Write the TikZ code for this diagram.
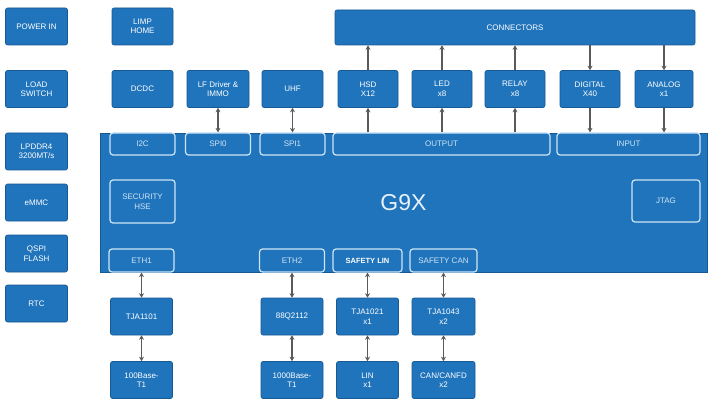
\documentclass[tikz,border=0pt]{standalone}
\usepackage{fontspec}
\setmainfont{Liberation Sans}
\usetikzlibrary{arrows.meta}
\definecolor{chipblue}{HTML}{2074BC}
\definecolor{edgeblue}{HTML}{175A93}
\definecolor{padline}{HTML}{CFE5F6}
\definecolor{wire}{HTML}{5A5A5A}

\begin{document}
\begin{tikzpicture}[x=1pt,y=-1pt,
    blk/.style={draw=edgeblue,fill=chipblue,rounded corners=2pt,text=white,align=center,
      font=\fontsize{8}{9.5}\selectfont,inner sep=1pt,line width=0.6pt,
      minimum width=62pt,minimum height=37pt},
    pad/.style={draw=padline,fill=chipblue,rounded corners=3pt,text=padline,align=center,
      font=\fontsize{8}{9.5}\selectfont,inner sep=1pt,line width=1.2pt},
    link/.style={draw=wire,line width=1.2pt,>={Stealth[length=4.5pt,width=5pt]}}]
     \fill[white] (0,0) rectangle (714,406);
     \useasboundingbox (0,0) rectangle (714,406);

     % left column
     \node[blk] (pwr)  at (36.5,26.5)  {POWER IN};
     \node[blk] (lsw)  at (36.5,89)    {LOAD\\SWITCH};
     \node[blk] (ddr)  at (36.5,151.5) {LPDDR4\\3200MT/s};
     \node[blk] (emmc) at (36.5,202.5) {eMMC};
     \node[blk] (qspi) at (36.5,253.5) {QSPI\\FLASH};
     \node[blk] (rtc)  at (36.5,303.5) {RTC};

     % top rows
     \node[blk,minimum width=61pt] (limp) at (142.5,26.5) {LIMP\\HOME};
     \node[blk,minimum width=61pt] (dcdc) at (142.5,89) {DCDC};
     \node[blk] (lfd)   at (218,89)   {LF Driver \&\\IMMO};
     \node[blk,minimum width=61pt] (uhf) at (292.5,89) {UHF};
     \node[blk,minimum width=60pt] (hsd)   at (368,89) {HSD\\X12};
     \node[blk,minimum width=60pt] (led)   at (442,89) {LED\\x8};
     \node[blk,minimum width=60pt] (relay) at (515,89) {RELAY\\x8};
     \node[blk,minimum width=60pt] (dig)   at (590,89) {DIGITAL\\X40};
     \node[blk,minimum width=58pt] (ana)   at (664,89) {ANALOG\\x1};
     \node[blk,minimum width=360pt,minimum height=35pt] (conn) at (515,27.5) {CONNECTORS};

     % chip
     \node[draw=edgeblue,fill=chipblue,line width=0.6pt,minimum width=607pt,minimum height=139pt,
       inner sep=0pt,text=padline!50!white,font=\fontsize{23}{26}\selectfont] (g9x) at (403.5,202.5) {G9X};
     \node[pad,minimum width=65pt,minimum height=22pt] (i2c)  at (142.5,144) {I2C};
     \node[pad,minimum width=65pt,minimum height=22pt] (spi0) at (218,144)   {SPI0};
     \node[pad,minimum width=65pt,minimum height=22pt] (spi1) at (292.5,144) {SPI1};
     \node[pad,minimum width=217pt,minimum height=22pt] (outp) at (441.5,144) {OUTPUT};
     \node[pad,minimum width=143pt,minimum height=22pt] (inp)  at (628.5,144) {INPUT};
     \node[pad,minimum width=65pt,minimum height=43pt] (hse)  at (142.5,201.5) {SECURITY\\HSE};
     \node[pad,minimum width=68pt,minimum height=42pt] (jtag) at (666,201) {JTAG};
     \node[pad,minimum width=65pt,minimum height=23pt] (eth1) at (141.5,260.5) {ETH1};
     \node[pad,minimum width=65pt,minimum height=23pt] (eth2) at (292,260.5)   {ETH2};
     \node[pad,minimum width=69pt,minimum height=23pt,text=white,font=\bfseries\fontsize{7.5}{9}\selectfont] (slin) at (367.5,260.5) {SAFETY LIN};
     \node[pad,minimum width=67pt,minimum height=23pt] (scan) at (443.5,260.5) {SAFETY CAN};

     % bottom rows
     \node[blk] (tja1)  at (141.5,316.5) {TJA1101};
     \node[blk] (b100)  at (141.5,380)   {100Base-\\T1};
     \node[blk] (q2112) at (292,316.5)   {88Q2112};
     \node[blk] (b1000) at (292,380)     {1000Base-\\T1};
     \node[blk] (tja21) at (367.5,316.5) {TJA1021\\x1};
     \node[blk] (lin)   at (367.5,380)   {LIN\\x1};
     \node[blk,minimum width=63pt] (tja43) at (443.5,316.5) {TJA1043\\x2};
     \node[blk,minimum width=63pt] (can)   at (443.5,380)   {CAN/CANFD\\x2};

     % links
     \draw[link,<->] (spi0.north) -- (lfd.south);
     \draw[link,<->] (spi1.north) -- (uhf.south);
     \foreach \b in {hsd,led,relay} {
      \draw[link,->] (outp.north -| \b) -- (\b.south);
      \draw[link,->] (\b.north) -- (\b.north |- conn.south);
     }
     \foreach \b in {dig,ana} {
      \draw[link,->] (\b.north |- conn.south) -- (\b.north);
      \draw[link,->] (\b.south) -- (inp.north -| \b);
     }
     \foreach \a/\b/\c in {eth1/tja1/b100,eth2/q2112/b1000,slin/tja21/lin,scan/tja43/can} {
      \draw[link,<->] (\a.south) -- (\b.north);
      \draw[link,<->] (\b.south) -- (\c.north);
     }
    \end{tikzpicture}
\end{document}
